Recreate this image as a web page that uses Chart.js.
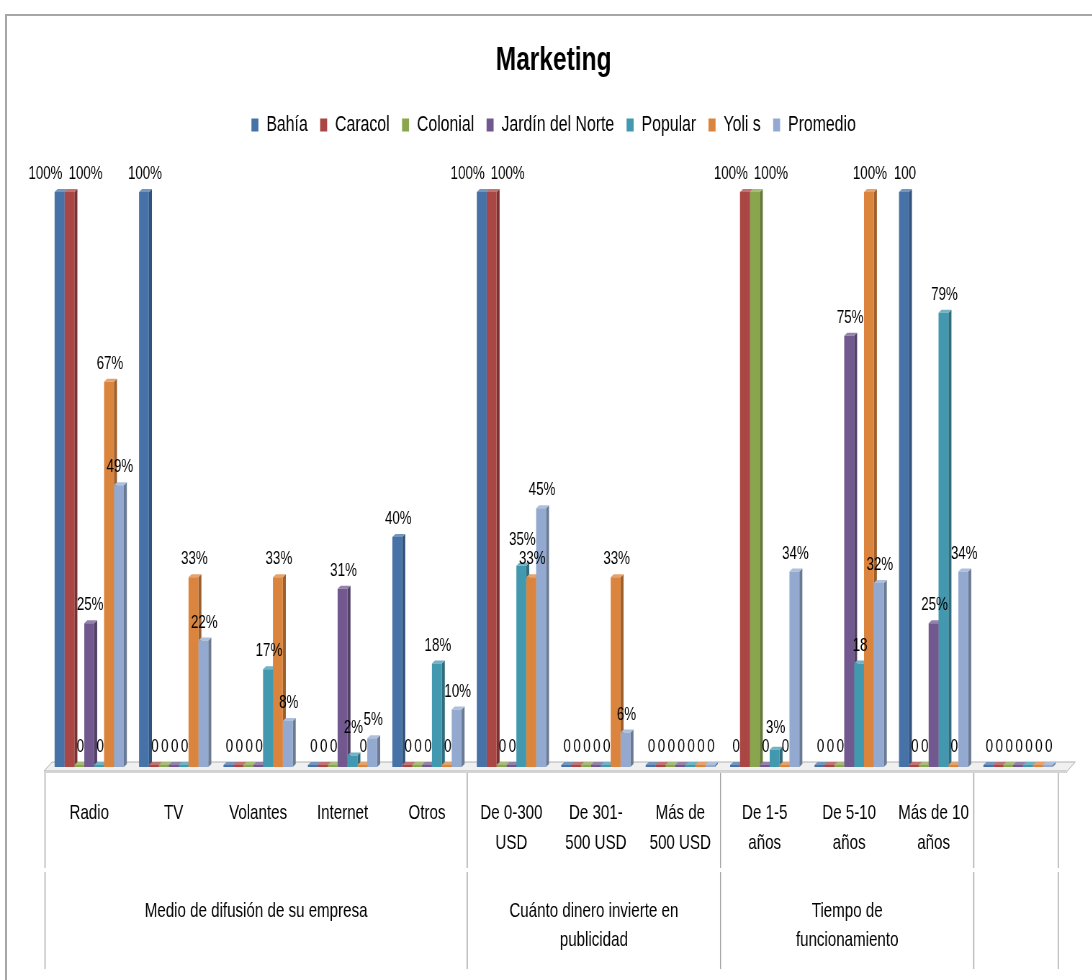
<!DOCTYPE html>
<html><head><meta charset="utf-8">
<script src="https://cdn.jsdelivr.net/npm/chart.js@4.4.0/dist/chart.umd.min.js"></script>
<style>
html,body{margin:0;padding:0;background:#fff;}
#wrap{position:relative;width:1092px;height:980px;overflow:hidden;background:#fff;}
#frame{position:absolute;left:5px;top:14px;width:1200px;height:1200px;border-top:2px solid #a6a6a6;border-left:2px solid #a6a6a6;pointer-events:none;}
#c{position:absolute;left:0;top:0;transform-origin:0 0;}
</style></head><body>
<div id="wrap"><canvas id="c"></canvas><div id="frame"></div></div>
<script>
// ---- data ----
const categories = [["Radio"],["TV"],["Volantes"],["Internet"],["Otros"],["De 0-300","USD"],["De 301-","500 USD"],["Más de","500 USD"],["De 1-5","años"],["De 5-10","años"],["Más de 10","años"],[""]];
const groupLabels = [["Medio de difusión de su empresa"],["Cuánto dinero invierte en","publicidad"],["Tiempo de","funcionamiento"],[""]];
const groupSpans = [5,3,3,1];
const seriesNames = ["Bahía","Caracol","Colonial","Jardín del Norte","Popular","Yoli s","Promedio"];
const bahia    = [100,100,0,0,40,100,0,0,0,0,100,0];
const caracol  = [100,0,0,0,0,100,0,0,100,0,0,0];
const colonial = [0,0,0,0,0,0,0,0,100,0,0,0];
const jardin   = [25,0,0,31,0,0,0,0,0,75,25,0];
const popular  = [0,0,17,2,18,35,0,0,3,18,79,0];
const yolis    = [67,33,33,0,0,33,33,0,0,100,0,0];
const promedio = [49,22,8,5,10,45,6,0,34,32,34,0];
// labels shown without the % sign: [series index, category index]
const noPercent = [[0,10],[4,9]];

const seriesValues = [bahia,caracol,colonial,jardin,popular,yolis,promedio];
const colors = ["#4672A8","#AA4643","#89A54E","#71588F","#4198AF","#DB843D","#93A9CF"];

// The reference uses a condensed face; draw on a wider canvas and squeeze it horizontally.
const S = 0.72;
const W = Math.round(1092/S), H = 980;
const cv = document.getElementById('c');
cv.width = W; cv.height = H;
cv.style.transform = 'scaleX('+S+')';
const X = v => v/S;  // final horizontal pixels -> canvas pixels

const F = '"Liberation Sans", Arial, sans-serif';

function labelText(s,j){
  const v = seriesValues[s][j];
  if (v===0) return "0";
  const np = noPercent.some(p=>p[0]===s&&p[1]===j);
  return np ? String(v) : v+"%";
}

function shade(hex,f){
  const n=parseInt(hex.slice(1),16); let r=n>>16,g=(n>>8)&255,b=n&255;
  const m=v=>Math.max(0,Math.min(255,Math.round(f<1?v*f:v+(255-v)*(f-1))));
  return `rgb(${m(r)},${m(g)},${m(b)})`;
}

const DX=X(3), DY=3;
const threeD = {
  id:'threeD',
  beforeDatasetsDraw(chart){
    const ctx=chart.ctx, a=chart.chartArea;
    const L=a.left-X(2), R=a.right-X(2), B=a.bottom;
    ctx.save();
    // floor
    ctx.beginPath();
    ctx.moveTo(L-X(1),B+4); ctx.lineTo(L+X(7),B-5); ctx.lineTo(R+X(17),B-5); ctx.lineTo(R+X(9),B+4); ctx.closePath();
    ctx.fillStyle='#f0f0f0'; ctx.fill();
    ctx.strokeStyle='#b0b0b0'; ctx.lineWidth=1; ctx.stroke();
    ctx.fillStyle='#d4d4d4'; ctx.beginPath();
    ctx.moveTo(L-X(1),B+4); ctx.lineTo(R+X(9),B+4); ctx.lineTo(R+X(9),B+6); ctx.lineTo(L-X(1),B+6); ctx.closePath(); ctx.fill();
    // bar extrusions
    for (let i=0;i<chart.data.datasets.length;i++){
      const meta=chart.getDatasetMeta(i); const col=colors[i];
      meta.data.forEach(el=>{
        const l=el.x-el.width/2, r=el.x+el.width/2, t=el.y, b=el.base;
        ctx.fillStyle=shade(col,0.72);
        ctx.beginPath(); ctx.moveTo(r,t); ctx.lineTo(r+DX,t-DY); ctx.lineTo(r+DX,b-DY); ctx.lineTo(r,b); ctx.closePath(); ctx.fill();
        ctx.fillStyle=shade(col,1.25);
        ctx.beginPath(); ctx.moveTo(l,t); ctx.lineTo(l+DX,t-DY); ctx.lineTo(r+DX,t-DY); ctx.lineTo(r,t); ctx.closePath(); ctx.fill();
      });
    }
    ctx.restore();
  }
};

const barLabels = {
  id:'barLabels',
  afterDatasetsDraw(chart){
    const ctx=chart.ctx;
    ctx.save();
    ctx.font = '18.5px '+F; ctx.fillStyle='#000'; ctx.textAlign='center'; ctx.textBaseline='alphabetic';
    const LH=17;
    const items=[];
    chart.data.datasets.forEach((ds,i)=>{
      chart.getDatasetMeta(i).data.forEach((el,j)=>{
        const t=labelText(i,j);
        items.push({t,x:el.x+X(1),y:el.y-13,w:ctx.measureText(t).width,cat:j,s:i});
      });
    });
    // spread same-level overlapping labels horizontally
    for (let j=0;j<categories.length;j++){
      const row=items.filter(it=>it.cat===j).sort((p,q)=>p.s-q.s);
      for (let k=1;k<row.length;k++){
        const p=row[k-1], q=row[k];
        if (Math.abs(p.y-q.y)<2 && (q.x-p.x)<(p.w+q.w)/2){
          const mid=(p.x+q.x)/2, gap=X(6);
          p.x=mid-gap/2-p.w/2; q.x=mid+gap/2+q.w/2;
        }
      }
    }
    // push overlapping labels upward
    const sorted=items.slice().sort((p,q)=>q.y-p.y);
    const placed=[];
    sorted.forEach(it=>{
      let moved=true;
      while(moved){
        moved=false;
        for (const p of placed){
          if (Math.abs(it.x-p.x)<(it.w+p.w)/2-0.5 && Math.abs(it.y-p.y)<LH){
            it.y=p.y-LH-2; moved=true;
          }
        }
      }
      placed.push(it);
    });
    items.forEach(it=>ctx.fillText(it.t,it.x,it.y));
    ctx.restore();
  }
};

const groupAxis = {
  id:'groupAxis',
  afterDraw(chart){
    const ctx=chart.ctx, xs=chart.scales.x, B=chart.chartArea.bottom;
    const w=xs.getPixelForTick(1)-xs.getPixelForTick(0);
    ctx.save();
    ctx.strokeStyle='#a0a0a0'; ctx.lineWidth=X(1);
    let idx=0;
    const edge=i=>(i>=categories.length? xs.getPixelForTick(categories.length-1)+w/2 : xs.getPixelForTick(i)-w/2) - X(2);
    const line=x=>{ctx.beginPath();ctx.moveTo(x,B+6);ctx.lineTo(x,B+101);ctx.moveTo(x,B+105);ctx.lineTo(x,B+202);ctx.stroke();};
    line(edge(0));
    ctx.font='21px '+F; ctx.fillStyle='#000'; ctx.textAlign='center'; ctx.textBaseline='middle';
    groupSpans.forEach((n,g)=>{
      const x0=edge(idx), x1=edge(idx+n);
      line(x1);
      groupLabels[g].forEach((t,li)=>ctx.fillText(t,(x0+x1)/2,B+144+li*29));
      idx+=n;
    });
    ctx.restore();
  }
};

const datasets = seriesNames.map((n,i)=>({
  label:n, data:seriesValues[i], backgroundColor:colors[i], borderWidth:0,
  barPercentage:1, categoryPercentage:0.82, minBarLength:2
}));

new Chart(cv,{
  type:'bar',
  data:{labels:categories, datasets},
  plugins:[threeD,barLabels,groupAxis],
  options:{
    responsive:false, animation:false, devicePixelRatio:1,
    layout:{padding:{left:X(47),right:X(32),top:0,bottom:0}},
    plugins:{
      title:{display:true,text:'Marketing',color:'#000',font:{family:F,size:34,weight:'bold'},padding:{top:40,bottom:16}},
      legend:{position:'top',labels:{color:'#000',font:{family:F,size:22},boxWidth:X(7),boxHeight:13,padding:X(12.4)}},
      tooltip:{enabled:false}
    },
    scales:{
      x:{grid:{display:false,drawTicks:false},border:{display:false},
         ticks:{color:'#000',font:{family:F,size:21,lineHeight:1.43},padding:31,maxRotation:0,autoSkip:false},
         afterFit(s){s.height=213;}},
      y:{display:false,min:0,max:108}
    }
  }
});
</script>
</body></html>
